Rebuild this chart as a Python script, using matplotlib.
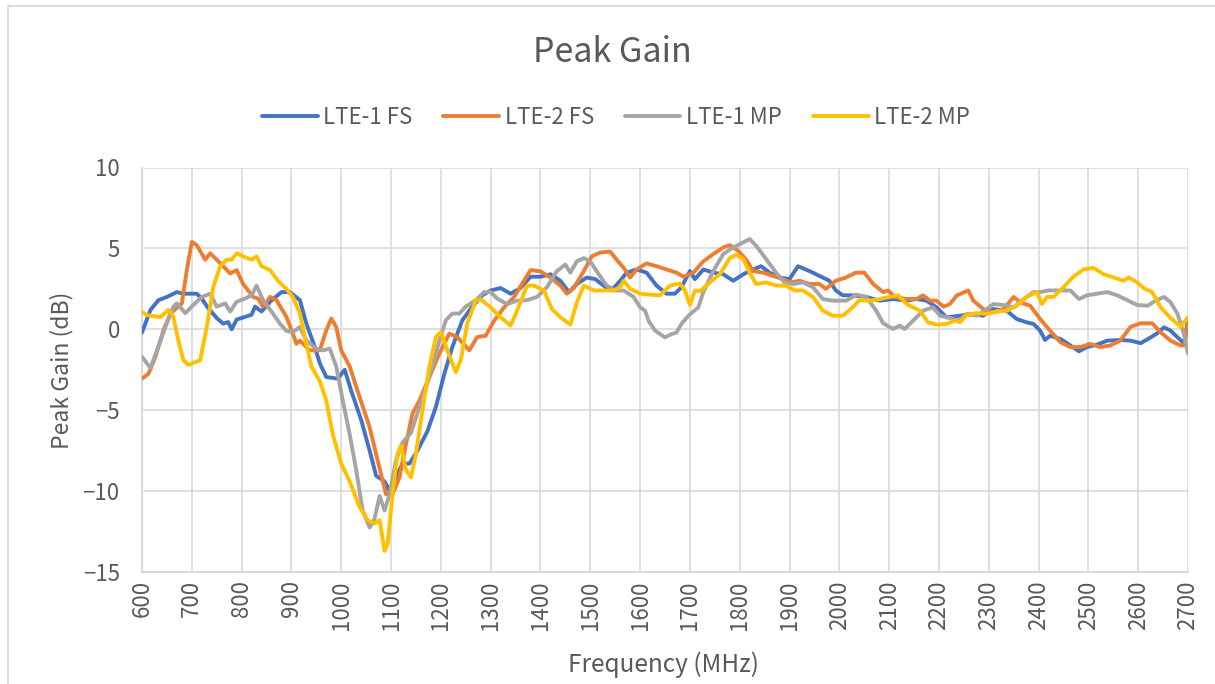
import matplotlib
matplotlib.use("Agg")
import matplotlib.pyplot as plt
from matplotlib.patches import Rectangle

# ---------------------------------------------------------------
# Datos (frecuencia en MHz, ganancia en dB)
# ---------------------------------------------------------------
freq_lte1_fs = [600, 617, 633, 650, 670, 683, 710, 720, 733, 750, 763, 773, 780, 790, 810, 820, 827, 840,
                857, 880, 897, 917, 930, 947, 957, 970, 993, 1007, 1020, 1040, 1057, 1070, 1087, 1097, 1110,
                1123, 1137, 1153, 1173, 1190, 1207, 1223, 1243, 1263, 1283, 1300, 1320, 1340, 1360, 1380,
                1400, 1420, 1440, 1457, 1473, 1493, 1510, 1533, 1547, 1560, 1573, 1593, 1613, 1633, 1653,
                1670, 1683, 1700, 1710, 1727, 1747, 1767, 1787, 1807, 1827, 1843, 1860, 1880, 1900, 1917,
                1940, 1960, 1980, 1993, 2007, 2027, 2054, 2081, 2108, 2135, 2155, 2175, 2195, 2215, 2242,
                2269, 2289, 2309, 2336, 2356, 2376, 2390, 2403, 2413, 2423, 2444, 2464, 2481, 2497, 2517,
                2538, 2564, 2585, 2605, 2625, 2638, 2652, 2665, 2679, 2692, 2700]
gain_lte1_fs = [-0.2, 1.2, 1.8, 2.0, 2.3, 2.2, 2.2, 1.9, 1.3, 0.7, 0.35, 0.45, 0.0, 0.6, 0.8, 0.9, 1.4, 1.1,
                1.7, 2.3, 2.3, 1.8, 0.35, -1.1, -2.1, -2.95, -3.05, -2.5, -3.8, -5.6, -7.5, -9.05, -9.4, -10.0,
                -9.15, -8.3, -8.3, -7.5, -6.3, -4.8, -2.75, -1.1, 0.55, 1.4, 2.1, 2.4, 2.55, 2.2, 2.55, 3.25,
                3.25, 3.4, 3.0, 2.3, 2.8, 3.2, 3.1, 2.55, 2.55, 3.0, 3.5, 3.7, 3.5, 2.7, 2.2,
                2.2, 2.6, 3.6, 3.1, 3.7, 3.5, 3.4, 3.0, 3.4, 3.7, 3.9, 3.5, 3.2, 3.1, 3.9,
                3.6, 3.3, 3.0, 2.4, 2.1, 2.1, 2.0, 1.77, 1.87, 1.77, 1.87, 1.77, 1.36, 0.74, 0.84,
                0.95, 0.84, 1.25, 1.15, 0.64, 0.43, 0.33, -0.08, -0.66, -0.4, -0.6, -1.0, -1.36, -1.1, -0.95,
                -0.7, -0.66, -0.7, -0.86, -0.5, -0.25, 0.12, -0.08, -0.5, -0.86, 0.6]

freq_lte2_fs = [600, 613, 627, 643, 657, 680, 690, 700, 710, 727, 737, 750, 763, 777, 790, 803, 813, 823,
                833, 843, 857, 870, 890, 903, 910, 917, 937, 957, 970, 980, 990, 1000, 1017, 1037, 1057,
                1073, 1090, 1103, 1117, 1130, 1143, 1157, 1177, 1197, 1217, 1233, 1257, 1273, 1290, 1307,
                1327, 1347, 1367, 1380, 1400, 1420, 1440, 1453, 1467, 1487, 1503, 1520, 1540, 1553, 1567,
                1580, 1593, 1613, 1633, 1653, 1673, 1687, 1707, 1727, 1747, 1767, 1780, 1797, 1813, 1827,
                1847, 1867, 1887, 1903, 1920, 1940, 1960, 1973, 1993, 2013, 2033, 2050, 2068, 2088, 2098,
                2111, 2135, 2155, 2168, 2182, 2195, 2209, 2222, 2236, 2259, 2269, 2289, 2309, 2330, 2350,
                2363, 2383, 2403, 2423, 2444, 2464, 2484, 2504, 2524, 2544, 2564, 2585, 2605, 2628, 2645,
                2665, 2685, 2693, 2700]
gain_lte2_fs = [-3.05, -2.75, -1.7, -0.06, 0.97, 1.6, 3.66, 5.4, 5.2, 4.3, 4.7, 4.3, 3.9, 3.45, 3.66, 2.8,
                2.4, 2.0, 1.9, 1.4, 2.0, 1.8, 0.76, -0.27, -0.9, -0.7, -1.3, -1.3, -0.06, 0.66, 0.14, -1.3,
                -2.3, -4.2, -6.05, -8.1, -10.2, -10.2, -9.15, -7.1, -5.2, -4.4, -2.95, -1.5, -0.27, -0.48,
                -1.3, -0.48, -0.4, 0.53, 1.36, 2.0, 3.0, 3.66, 3.58, 3.2, 2.7, 2.2, 2.55, 3.6, 4.5, 4.75,
                4.8, 4.3, 3.8, 3.2, 3.7, 4.07, 3.9, 3.7, 3.5, 3.25, 3.5, 4.2, 4.65, 5.06, 5.2, 4.85, 4.3,
                3.6, 3.5, 3.3, 3.1, 2.9, 3.0, 2.8, 2.8, 2.5, 3.0, 3.2, 3.5, 3.5, 2.8, 2.3, 2.4,
                2.0, 1.87, 1.87, 2.1, 1.77, 1.77, 1.4, 1.56, 2.1, 2.4, 1.77, 1.25, 1.05, 1.25, 2.0,
                1.67, 1.46, 0.64, -0.08, -0.8, -1.1, -1.1, -0.9, -1.1, -1.0, -0.7, 0.16, 0.37, 0.37, -0.18,
                -0.7, -1.0, -1.0, 0.4]

freq_lte1_mp = [600, 617, 630, 647, 663, 670, 687, 703, 720, 737, 750, 767, 777, 790, 807, 820, 830, 843,
                863, 877, 890, 903, 917, 930, 950, 963, 977, 990, 1003, 1017, 1030, 1043, 1057, 1067, 1077,
                1087, 1097, 1110, 1123, 1140, 1157, 1177, 1197, 1210, 1223, 1237, 1250, 1270, 1287, 1300,
                1313, 1333, 1353, 1373, 1393, 1413, 1433, 1450, 1460, 1473, 1487, 1500, 1517, 1533, 1550,
                1567, 1587, 1600, 1610, 1617, 1630, 1650, 1663, 1673, 1683, 1697, 1717, 1727, 1747, 1767,
                1787, 1807, 1820, 1833, 1853, 1873, 1890, 1907, 1927, 1947, 1967, 1987, 2014, 2034, 2054,
                2074, 2088, 2108, 2121, 2131, 2148, 2168, 2188, 2202, 2222, 2239, 2256, 2276, 2296, 2309,
                2330, 2350, 2370, 2390, 2403, 2420, 2444, 2464, 2481, 2497, 2517, 2538, 2558, 2578, 2598,
                2619, 2635, 2652, 2665, 2679, 2692, 2700]
gain_lte1_mp = [-1.7, -2.4, -1.3, 0.14, 1.4, 1.6, 1.0, 1.5, 2.0, 2.2, 1.4, 1.6, 1.1, 1.7, 1.9, 2.1, 2.7, 1.8,
                0.97, 0.35, -0.1, -0.17, 0.14, -0.7, -1.2, -1.3, -1.2, -2.3, -4.4, -6.5, -8.7, -11.2, -12.25,
                -11.7, -10.3, -11.2, -10.2, -8.1, -7.0, -6.4, -4.8, -2.95, -0.7, 0.56, 0.97, 0.97, 1.4, 1.8,
                2.3, 2.3, 1.9, 1.56, 1.77, 1.8, 2.0, 2.6, 3.6, 4.0, 3.5, 4.2, 4.4, 4.2, 3.4, 2.7, 2.4,
                2.4, 2.0, 1.36, 1.15, 0.53, -0.08, -0.5, -0.3, -0.2, 0.33, 0.84, 1.36, 2.3, 3.6, 4.65,
                5.06, 5.37, 5.58, 5.16, 4.34, 3.5, 2.9, 2.8, 2.9, 2.6, 1.87, 1.77, 1.77, 2.14, 2.0,
                1.15, 0.37, 0.02, 0.23, 0.02, 0.53, 1.15, 1.36, 0.84, 0.7, 0.53, 0.95, 0.84, 1.25, 1.56,
                1.5, 1.36, 1.87, 2.3, 2.3, 2.4, 2.4, 2.4, 1.87, 2.1, 2.2, 2.3, 2.1, 1.8, 1.5,
                1.46, 1.77, 2.0, 1.67, 0.95, -0.3, -1.5]

freq_lte2_mp = [600, 610, 637, 653, 663, 673, 683, 693, 717, 730, 743, 757, 770, 780, 790, 807, 820, 830,
                840, 857, 873, 890, 903, 917, 927, 940, 957, 970, 983, 1000, 1017, 1037, 1053, 1067, 1077,
                1087, 1093, 1103, 1113, 1120, 1130, 1140, 1150, 1163, 1177, 1190, 1200, 1213, 1230, 1240,
                1253, 1270, 1280, 1300, 1320, 1340, 1353, 1373, 1387, 1407, 1423, 1440, 1460, 1473, 1487,
                1507, 1527, 1547, 1560, 1567, 1580, 1600, 1620, 1640, 1660, 1680, 1690, 1700, 1710, 1720,
                1740, 1760, 1780, 1793, 1807, 1820, 1833, 1853, 1873, 1893, 1910, 1927, 1947, 1967, 1987,
                2007, 2027, 2040, 2061, 2081, 2101, 2118, 2135, 2162, 2178, 2195, 2215, 2232, 2242, 2256,
                2276, 2296, 2316, 2336, 2356, 2376, 2397, 2407, 2417, 2430, 2450, 2470, 2490, 2510, 2531,
                2551, 2571, 2581, 2598, 2611, 2628, 2645, 2665, 2685, 2700]
gain_lte2_mp = [1.07, 0.87, 0.76, 1.2, 0.76, -0.7, -1.9, -2.2, -1.9, 0.14, 2.6, 3.9, 4.3, 4.3, 4.7, 4.45,
                4.3, 4.5, 3.9, 3.66, 3.0, 2.5, 2.0, 0.97, -0.48, -2.3, -3.2, -4.4, -6.5, -8.3, -9.4, -11.0,
                -11.8, -12.0, -11.8, -13.7, -13.3, -10.2, -7.7, -7.2, -8.7, -9.15, -7.7, -5.0, -2.3, -0.48,
                -0.17, -1.3, -2.65, -1.9, 0.35, 1.8, 1.85, 1.36, 0.74, 0.23, 1.15, 2.7, 2.7, 2.4, 1.25,
                0.74, 0.29, 1.67, 2.7, 2.4, 2.4, 2.4, 2.6, 3.0, 2.5, 2.2, 2.14, 2.1, 2.7, 2.84, 2.4,
                1.5, 2.4, 2.35, 2.9, 3.4, 4.4, 4.6, 4.34, 3.5, 2.8, 2.9, 2.7, 2.7, 2.4, 2.4, 2.0,
                1.15, 0.84, 0.84, 1.36, 1.8, 1.77, 1.87, 2.0, 2.1, 1.56, 1.15, 0.43, 0.29, 0.33, 0.53,
                0.43, 0.9, 1.0, 0.95, 1.1, 1.15, 1.46, 2.0, 2.3, 1.56, 2.0, 2.0, 2.6, 3.25, 3.7, 3.8,
                3.4, 3.2, 3.0, 3.2, 2.9, 2.55, 2.3, 1.36, 0.7, 0.16, 0.74]

series_names = ["LTE-1 FS", "LTE-2 FS", "LTE-1 MP", "LTE-2 MP"]
x_ticks = list(range(600, 2701, 100))
y_ticks = [-15, -10, -5, 0, 5, 10]

# ---------------------------------------------------------------
# Estilo (colores de Excel)
# ---------------------------------------------------------------
COLORES = ["#4472C4", "#ED7D31", "#A5A5A5", "#FFC000"]
GRIS_TXT = "#595959"
GRIS_GRID = "#D9D9D9"

plt.rcParams.update({
    "font.family": ["Noto Sans CJK SC", "DejaVu Sans"],
    "font.weight": "light",
    "font.size": 16,
})

W, H = 1215, 684
fig = plt.figure(figsize=(W / 100, H / 100), dpi=100)

def fx(px):
    return px / W

def fy(py):
    return 1 - py / H

# marco del área del gráfico (solo se ven arriba e izquierda)
fig.patches.append(Rectangle((fx(7.5), -0.5), 2, fy(6) + 0.5, transform=fig.transFigure,
                             fill=False, edgecolor=GRIS_GRID, linewidth=1.3))

ax = fig.add_axes([fx(142), fy(572), fx(1188) - fx(142), fy(167.5) - fy(572)])

datos = [(freq_lte1_fs, gain_lte1_fs), (freq_lte2_fs, gain_lte2_fs),
         (freq_lte1_mp, gain_lte1_mp), (freq_lte2_mp, gain_lte2_mp)]
for (f, g), nombre, c in zip(datos, series_names, COLORES):
    ax.plot(f, g, color=c, linewidth=2.8, label=nombre,
            solid_joinstyle="round", solid_capstyle="round", zorder=3)

ax.set_xlim(600, 2700)
ax.set_ylim(-15, 10)
ax.set_xticks(x_ticks)
ax.set_yticks(y_ticks)
ax.set_xticklabels([str(t) for t in x_ticks], rotation=90)
ax.grid(True, color=GRIS_GRID, linewidth=1.2, zorder=0)
ax.tick_params(length=0, colors=GRIS_TXT, labelsize=16)
ax.tick_params(axis="x", pad=6)
ax.tick_params(axis="y", pad=16)
for lado in ["top", "right"]:
    ax.spines[lado].set_visible(False)
for lado in ["left", "bottom"]:
    ax.spines[lado].set_color(GRIS_GRID)
    ax.spines[lado].set_linewidth(1.5)

fig.text(fx(612), fy(52), "Peak Gain", ha="center", va="center", fontsize=24.5, color=GRIS_TXT)
fig.text(fx(62), fy(370), "Peak Gain (dB)", ha="center", va="center", rotation=90,
         fontsize=16.5, color=GRIS_TXT)
fig.text(fx(664), fy(665), "Frequency (MHz)", ha="center", va="center", fontsize=17.5, color=GRIS_TXT)

leg = fig.legend(loc="center", bbox_to_anchor=(fx(616), fy(117)), ncol=4, frameon=False,
                 handlelength=2.5, handletextpad=0.25, columnspacing=1.4, fontsize=16)
for t in leg.get_texts():
    t.set_color(GRIS_TXT)

fig.savefig("out.png", dpi=100, facecolor="white")
